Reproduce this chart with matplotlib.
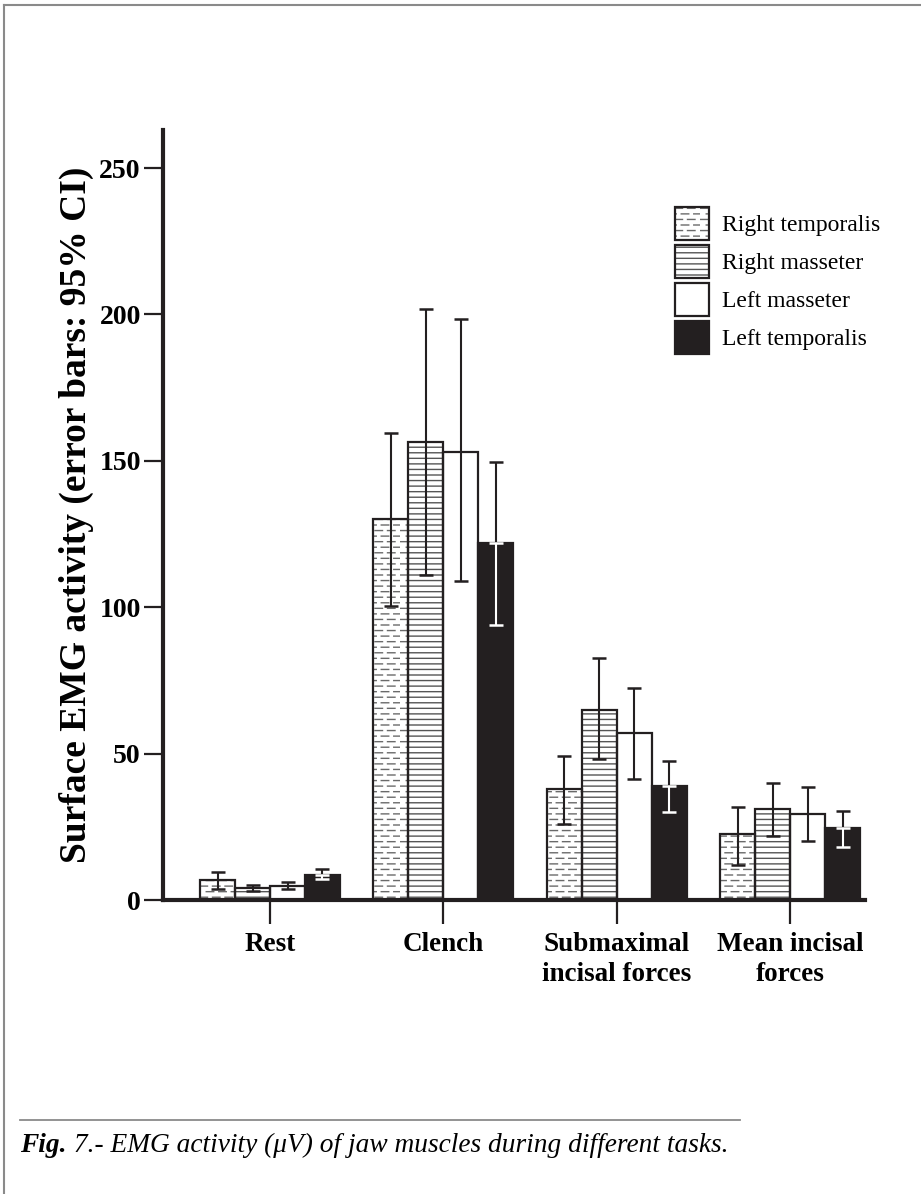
import numpy as np
import matplotlib
matplotlib.use('Agg')
import matplotlib.pyplot as plt
from matplotlib import hatch as mhatch
from matplotlib.path import Path
from matplotlib.patches import Patch
from matplotlib.lines import Line2D

tasks = ['Rest', 'Clench', 'Submaximal\nincisal forces', 'Mean incisal\nforces']
muscles = ['Right temporalis', 'Right masseter', 'Left masseter', 'Left temporalis']

# mean EMG (uV) per muscle, one value per task
right_temporalis = [6.8, 130, 38, 22.7]
right_masseter = [4.0, 156.5, 65, 31]
left_masseter = [4.9, 153, 57, 29.5]
left_temporalis = [8.4, 122, 39, 24.5]

# 95% CI limits
rt_low = [3.7, 100.5, 26, 12]
rt_high = [9.6, 159.5, 49.2, 31.8]
rm_low = [3.2, 111, 48.3, 21.9]
rm_high = [5.3, 202, 82.6, 40]
lm_low = [3.8, 109, 41.3, 20.3]
lm_high = [6.1, 198.5, 72.4, 38.7]
lt_low = [7.1, 94, 30, 18]
lt_high = [10.5, 149.7, 47.5, 30.4]


class DashRows(mhatch.HatchPatternBase):
    # staggered rows of short dashes, takes the place of the '.' pattern
    def __init__(self, hatch, density):
        self.num_rows = int(hatch.count('.') * density)
        self.per_row = 8
        self.num_vertices = self.num_rows * self.per_row * 2

    def set_vertices_and_codes(self, vertices, codes):
        step = 1.0 / self.per_row
        i = 0
        for r in range(self.num_rows):
            y = (r + 0.5) / self.num_rows
            shift = 0.5 * step if r % 2 else 0.0
            for d in range(self.per_row):
                x0 = d * step + shift
                vertices[i] = (x0, y)
                vertices[i + 1] = (x0 + 0.6 * step, y)
                codes[i] = Path.MOVETO
                codes[i + 1] = Path.LINETO
                i += 2


mhatch._hatch_types = [DashRows if t is mhatch.SmallFilledCircles else t
                       for t in mhatch._hatch_types]

plt.rcParams['font.family'] = ['Liberation Serif', 'DejaVu Serif']
plt.rcParams['hatch.linewidth'] = 1.0

fig = plt.figure(figsize=(9.21, 11.94), dpi=100)
ax = fig.add_axes([0.177, 0.2462, 0.762, 0.6449])

x = np.arange(len(tasks))
w = 0.2017
dark = '#231f20'
styles = [
    dict(fc='white', hc='#6a6a6a', hatch='...'),
    dict(fc='white', hc='#555555', hatch='---'),
    dict(fc='white', hc=None, hatch=None),
    dict(fc=dark, hc=None, hatch=None),
]
values = [right_temporalis, right_masseter, left_masseter, left_temporalis]
lows = [rt_low, rm_low, lm_low, lt_low]
highs = [rt_high, rm_high, lm_high, lt_high]

handles = []
for k in range(4):
    pos = x + (k - 1.5) * w
    st = styles[k]
    vals = np.array(values[k])
    if st['hatch']:
        ax.bar(pos, vals, w, color=st['fc'], edgecolor=st['hc'], hatch=st['hatch'],
               linewidth=0, zorder=2)
        h1 = Patch(facecolor=st['fc'], edgecolor=st['hc'], hatch=st['hatch'], linewidth=0)
    else:
        ax.bar(pos, vals, w, color=st['fc'], linewidth=0, zorder=2)
        h1 = Patch(facecolor=st['fc'], linewidth=0)
    ax.bar(pos, vals, w, fill=False, edgecolor=dark, linewidth=1.6, zorder=3)
    h2 = Patch(facecolor='none', edgecolor=dark, linewidth=1.6)
    handles.append((h1, h2))

    up = np.array(highs[k]) - vals
    dn = vals - np.array(lows[k])
    ebkw = dict(fmt='none', capsize=4.7, elinewidth=1.5, capthick=1.8, zorder=4)
    if k == 3:
        # on the black bars the part below the top is drawn in white
        ax.errorbar(pos, vals, yerr=[np.zeros_like(vals), up], ecolor=dark, **ebkw)
        ax.errorbar(pos, vals, yerr=[dn, np.zeros_like(vals)], ecolor='white', **ebkw)
    else:
        ax.errorbar(pos, vals, yerr=[dn, up], ecolor=dark, **ebkw)

ax.set_xlim(-0.617, 3.43)
ax.set_ylim(0, 263)
ax.set_yticks([0, 50, 100, 150, 200, 250])
ax.set_xticks(x)
ax.set_xticklabels(tasks, fontsize=19.5, fontweight='bold', linespacing=1.25)
ax.tick_params(axis='y', labelsize=20, length=14, width=1.6, color=dark, pad=2)
ax.tick_params(axis='x', length=17, width=1.6, color=dark, pad=6)
for lab in ax.get_yticklabels():
    lab.set_fontweight('bold')
ax.spines['top'].set_visible(False)
ax.spines['right'].set_visible(False)
for side in ['left', 'bottom']:
    ax.spines[side].set_linewidth(3)
    ax.spines[side].set_color(dark)
ax.set_ylabel('Surface EMG activity (error bars: 95% CI)', fontsize=27,
              fontweight='bold', labelpad=4)

ax.legend(handles, muscles, loc='upper left', bbox_to_anchor=(0.716, 0.912),
          frameon=False, fontsize=17, handlelength=1.44, handleheight=1.73,
          labelspacing=0.24, handletextpad=0.55, borderaxespad=0)

# page frame (top and left edges) and caption
fig.add_artist(Line2D([0.004, 1.0], [0.9962, 0.9962], color='#8a8a8a', lw=1.5))
fig.add_artist(Line2D([0.004, 0.004], [0.0, 0.9962], color='#8a8a8a', lw=1.5))
fig.add_artist(Line2D([0.022, 0.803], [0.062, 0.062], color='#8a8a8a', lw=1.3))
t1 = fig.text(0.022, 0.035, 'Fig.', fontsize=19.7, fontstyle='italic', fontweight='bold',
              va='baseline')
ax.annotate(' 7.- EMG activity (\u03bcV) of jaw muscles during different tasks.',
            xy=(1, 0), xycoords=t1, va='bottom', ha='left', fontsize=19.7,
            fontstyle='italic', annotation_clip=False)

fig.savefig('out.png', dpi=100)
